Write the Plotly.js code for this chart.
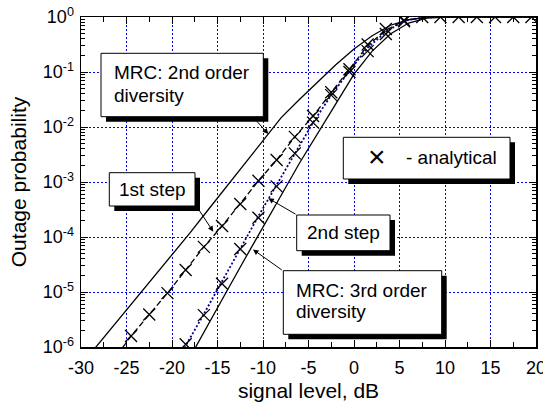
<!DOCTYPE html>
<html><head><meta charset="utf-8">
<script src="https://cdn.plot.ly/plotly-3.0.1.min.js"></script>
<style>html,body{margin:0;padding:0;background:#fff}#chart{width:543px;height:402px}</style>
</head><body><div id="chart"></div>
<script>
// ---- data ----
const levelMRC2 = [-30,-28,-26,-24,-22,-20,-18,-16,-14,-12,-10,-8,-6,-4,-2,0,2,4,6,8,10,15,20];
const probMRC2  = [4.68e-7,1.17e-6,2.95e-6,7.41e-6,1.86e-5,4.68e-5,1.20e-4,3.16e-4,8.32e-4,2.14e-3,5.75e-3,1.48e-2,3.16e-2,6.61e-2,0.135,0.263,0.457,0.708,0.891,0.982,0.998,1,1];

const levelMRC3 = [-18,-17,-16,-14,-12,-10,-8,-6,-4,-2,0,2,4,6,8,10,15,20];
const probMRC3  = [6.61e-7,1.29e-6,2.57e-6,1.02e-5,3.98e-5,1.55e-4,5.75e-4,2.19e-3,7.76e-3,2.63e-2,9.12e-2,0.240,0.490,0.776,0.951,0.995,1,1];

const levelStep1 = [-26,-24.5,-22.5,-20.5,-18.5,-16.5,-14.5,-12.5,-10.5,-8.5,-6.5,-4.5,-2.5,-0.5,1.5,3.5,5.5,7.5,10,20];
const probStep1  = [7.24e-7,1.58e-6,3.89e-6,9.55e-6,2.51e-5,6.61e-5,1.58e-4,3.98e-4,1.05e-3,2.51e-3,6.61e-3,1.58e-2,4.27e-2,0.110,0.302,0.575,0.861,0.977,1,1];

const levelStep2 = [-19,-18.5,-16.5,-14.5,-12.5,-10.5,-8.5,-6.5,-4.5,-2.5,-0.5,1.5,3.5,5.5,7.5,10,20];
const probStep2  = [7.08e-7,1.05e-6,3.98e-6,1.58e-5,6.31e-5,2.40e-4,8.91e-4,3.31e-3,1.20e-2,3.80e-2,0.105,0.275,0.537,0.851,0.977,1,1];

const levelAnalytic1 = [-24.5,-22.5,-20.5,-18.5,-16.5,-14.5,-12.5,-10.5,-8.5,-6.5,-4.5,-2.5,-0.5,1.5,3.5,5.5,7.5,9.5,11.5,13.5,15.5,17.5,19.5];
const probAnalytic1  = [1.58e-6,3.89e-6,9.55e-6,2.51e-5,6.61e-5,1.58e-4,3.98e-4,1.05e-3,2.51e-3,6.61e-3,1.58e-2,4.27e-2,0.112,0.316,0.603,0.871,1,1,1,1,1,1,1];

const levelAnalytic2 = [-18.5,-16.5,-14.5,-12.5,-10.5,-8.5,-6.5,-4.5,-2.5,-0.5,1.5,3.5,5.5];
const probAnalytic2  = [1.12e-6,3.80e-6,1.41e-5,6.03e-5,2.24e-4,8.32e-4,3.31e-3,1.20e-2,3.80e-2,0.100,0.240,0.490,0.832];

const xTickVals = [-30,-25,-20,-15,-10,-5,0,5,10,15,20];
const xTickText = ['-30','-25','-20','-15','-10','-5','0','5','10','15','20'];
const yTickVals = [1e-6,1e-5,1e-4,1e-3,1e-2,1e-1,1];
const yTickText = ['10<sup>-6</sup>','10<sup>-5</sup>','10<sup>-4</sup>','10<sup>-3</sup>','10<sup>-2</sup>','10<sup>-1</sup>','10<sup>0</sup>'];

// ---- layout helpers (pixel -> paper) ----
const W = 543, H = 402, M = {l:81, r:7, t:17, b:55};
const PW = W - M.l - M.r, PH = H - M.t - M.b;
const px = x => (x - M.l) / PW;
const py = y => (H - M.b - y) / PH;
const FONT = 'Liberation Sans, Arial, sans-serif';

const lineBlack = {color:'#000', width:1.3};
const markerX = {symbol:'x-thin', size:12, color:'#000', line:{color:'#000', width:1.3}};

const traces = [
  {x: levelMRC2, y: probMRC2, mode:'lines', line: lineBlack},
  {x: levelMRC3, y: probMRC3, mode:'lines', line: lineBlack},
  {x: levelStep1, y: probStep1, mode:'lines', line:{color:'#000', width:1.3, dash:'6px,3px'}},
  {x: levelStep2, y: probStep2, mode:'lines', line:{color:'#00008b', width:1.8, dash:'2px,2px'}},
  {x: levelAnalytic1, y: probAnalytic1, mode:'markers', marker: markerX, cliponaxis:true},
  {x: levelAnalytic2, y: probAnalytic2, mode:'markers', marker: markerX, cliponaxis:true}
];

const boxes = [
  [101, 53.3, 263.3, 116.7],
  [109.3, 172.7, 195, 206],
  [296.7, 215, 390, 250.7],
  [283.3, 270.7, 441.7, 334.3],
  [343.3, 137.3, 510, 179]
];
const shapes = [];
boxes.forEach(b => {
  shapes.push({type:'rect', xref:'paper', yref:'paper', layer:'above',
    x0:px(b[0]+5), x1:px(b[2]+5), y0:py(b[3]+5), y1:py(b[1]+5),
    fillcolor:'#000', line:{width:0}});
  shapes.push({type:'rect', xref:'paper', yref:'paper', layer:'above',
    x0:px(b[0]), x1:px(b[2]), y0:py(b[3]), y1:py(b[1]),
    fillcolor:'#fff', line:{color:'#000', width:1}});
});

const labels = [
  ['MRC: 2nd order', 112.5, 72.4, 'left', 19],
  ['diversity', 112.5, 95.1, 'left', 19],
  ['1st step', 118, 189.4, 'left', 19],
  ['2nd step', 306, 232.4, 'left', 19],
  ['MRC: 3rd order', 295, 290.1, 'left', 19],
  ['diversity', 295, 311.7, 'left', 19],
  ['\u00d7', 377, 156.7, 'center', 30],
  ['- analytical', 405, 157.4, 'left', 19]
];
const annotations = labels.map(l => ({
  xref:'paper', yref:'paper', x:px(l[1]), y:py(l[2]), xanchor:l[3], yanchor:'middle',
  text:l[0], showarrow:false, borderpad:0, font:{family:FONT, size:l[4], color:'#000'}
}));
const arrows = [
  [[268.3,134],[253,117]],
  [[213.3,231.7],[197,207]],
  [[268.3,198.3],[297,215]],
  [[253,249.5],[283.3,271]]
];
arrows.forEach(a => annotations.push({
  xref:'paper', yref:'paper', x:px(a[0][0]), y:py(a[0][1]),
  ax:a[1][0]-a[0][0], ay:a[1][1]-a[0][1], text:'', showarrow:true,
  arrowhead:2, arrowsize:1.1, arrowwidth:1, arrowcolor:'#000'
}));

const axisCommon = {
  showline:true, linecolor:'#000', linewidth:1.5, mirror:'ticks',
  ticks:'inside', ticklen:7, tickwidth:1, tickcolor:'#000',
  showgrid:true, gridcolor:'#0000ff', gridwidth:1, griddash:'2px,2px',
  zeroline:false, tickmode:'array', ticklabeloverflow:'allow',
  tickfont:{family:FONT, size:18, color:'#000'}
};

const layout = {
  width:W, height:H, margin:M, paper_bgcolor:'#fff', plot_bgcolor:'#fff',
  showlegend:false, font:{family:FONT, color:'#000'},
  xaxis: Object.assign({}, axisCommon, {
    range:[-30,20], tickvals:xTickVals, ticktext:xTickText,
    minor:{dtick:2.5, ticks:'inside', ticklen:5, tickcolor:'#000', showgrid:false},
    title:{text:'signal level, dB', font:{family:FONT, size:21, color:'#000'}, standoff:12},
    ticklabelstandoff:4
  }),
  yaxis: Object.assign({}, axisCommon, {
    type:'log', range:[-6,0], tickvals:yTickVals, ticktext:yTickText,
    minor:{dtick:'D1', ticks:'inside', ticklen:4, tickcolor:'#000', showgrid:false},
    title:{text:'Outage probability', font:{family:FONT, size:21, color:'#000'}, standoff:10},
    ticklabelstandoff:2
  }),
  shapes: shapes,
  annotations: annotations
};

Plotly.newPlot('chart', traces, layout, {displayModeBar:false, staticPlot:true});
</script>
</body></html>
